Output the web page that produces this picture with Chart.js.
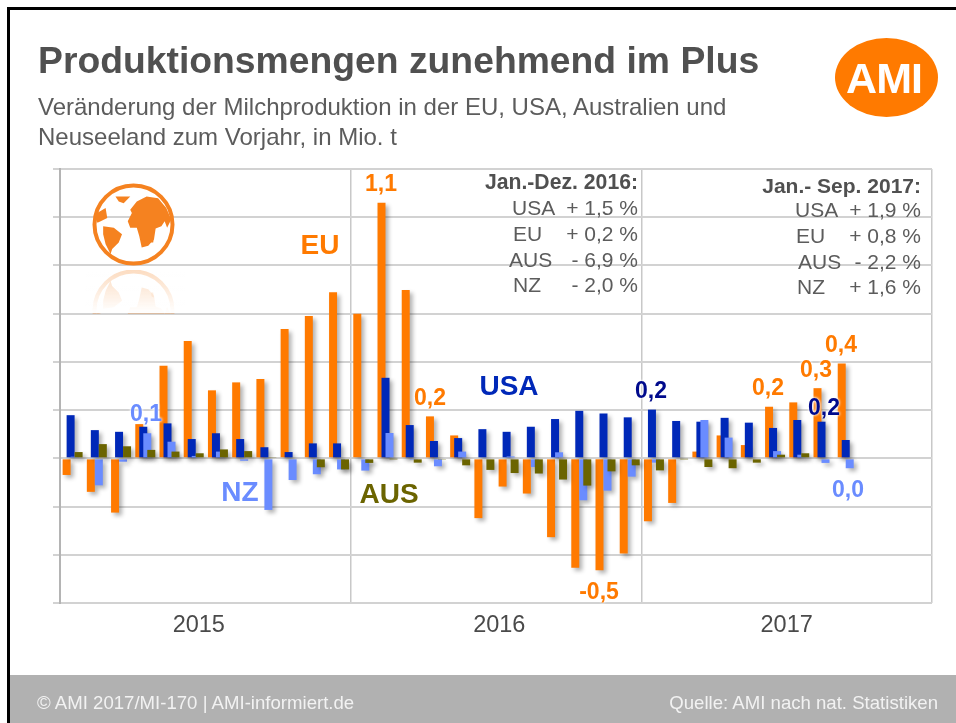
<!DOCTYPE html>
<html lang="de"><head><meta charset="utf-8">
<script src="https://cdn.jsdelivr.net/npm/chart.js@4"></script>
<style>
html,body{margin:0;padding:0;background:#fff;width:956px;height:723px;overflow:hidden;font-family:"Liberation Sans",Arial,sans-serif}
#wrap{position:relative;width:956px;height:723px;overflow:hidden}
#c{position:absolute;left:0;top:0}
.fr{position:absolute;background:#000}
.t{position:absolute;white-space:pre;line-height:1}
#foot{position:absolute;left:10px;top:675px;width:946px;height:48px;background:#b1b1b1}
#logo{position:absolute;left:835px;top:38px;width:103px;height:79px;border-radius:50%;background:#ff7a00}
</style></head><body>
<div id="wrap">
<div id="foot"></div>
<canvas id="c" width="956" height="723"></canvas>
<div class="fr" style="left:7px;top:7px;width:949px;height:3px"></div>
<div class="fr" style="left:7px;top:7px;width:3px;height:716px"></div>
<div id="logo"></div>
</div>
<script>
const months = ['2015-01','2015-02','2015-03','2015-04','2015-05','2015-06','2015-07','2015-08','2015-09','2015-10','2015-11','2015-12',
 '2016-01','2016-02','2016-03','2016-04','2016-05','2016-06','2016-07','2016-08','2016-09','2016-10','2016-11','2016-12',
 '2017-01','2017-02','2017-03','2017-04','2017-05','2017-06','2017-07','2017-08','2017-09','2017-10','2017-11','2017-12'];
const years = ['2015','2016','2017'];
const eu  = [-0.069,-0.139,-0.225,0.142,0.384,0.487,0.282,0.315,0.329,0.536,0.59,0.689,
 0.6,1.06,0.698,0.174,0.095,-0.248,-0.117,-0.146,-0.327,-0.454,-0.464,-0.395,
 -0.261,-0.185,0.028,0.095,0.055,0.214,0.232,0.291,0.393,null,null,null];
const usa = [0.179,0.117,0.11,0.131,0.145,0.08,0.104,0.08,0.046,0.026,0.062,0.062,
 0.004,0.334,0.138,0.072,0.084,0.121,0.11,0.131,0.163,0.197,0.186,0.17,
 0.202,0.155,0.152,0.168,0.148,0.126,0.159,0.152,0.076,null,null,null];
const nz  = [0.007,-0.112,-0.014,0.104,0.069,0.01,0.028,-0.01,-0.214,-0.09,-0.066,-0.046,
 -0.051,0.105,-0.006,-0.033,0.028,0,0.008,-0.036,0.025,-0.174,-0.134,-0.076,
 -0.018,0,0.159,0.086,-0.004,0.03,0.015,-0.019,-0.041,null,null,null];
const aus = [0.026,0.059,0.05,0.035,0.028,0.021,0.037,0.03,0.005,-0.004,-0.037,-0.046,
 -0.019,-0.002,-0.018,-0.003,-0.029,-0.048,-0.061,-0.063,-0.088,-0.113,-0.054,-0.029,
 -0.05,-0.002,-0.036,-0.041,-0.018,0.015,0.021,0.004,-0.004,null,null,null];

const ORANGE='#ff7a00',BLUE='#0028b8',LIGHT='#6a8cff',OLIVE='#6b6400',NAVY='#000a8c',GREY='#505050',GREY2='#5c5c5c';
const texts = [
 ['Produktionsmengen zunehmend im Plus',38,61,'l',37.3,GREY,1],
 ['Veränderung der Milchproduktion in der EU, USA, Australien und',38,106.5,'l',24,GREY2,0],
 ['Neuseeland zum Vorjahr, in Mio. t',38,136.5,'l',24,GREY2,0],
 ['AMI',884,78,'c',43,'#fff',1,-1],
 ['EU',320,245,'c',28,ORANGE,1],['USA',509,386,'c',28,BLUE,1],['NZ',240,492,'c',28,LIGHT,1],['AUS',389,494,'c',28,OLIVE,1],
 ['1,1',381,183,'c',23,ORANGE,1],['0,1',146,413,'c',23,LIGHT,1],['0,2',430,397,'c',23,ORANGE,1],['-0,5',599,591,'c',23,ORANGE,1],
 ['0,2',651,390,'c',23,NAVY,1],['0,2',768,387,'c',23,ORANGE,1],['0,3',816,369,'c',23,ORANGE,1],['0,4',841,344,'c',23,ORANGE,1],
 ['0,2',824,407,'c',23,NAVY,1],['0,0',848,489,'c',23,LIGHT,1],
 ['Jan.-Dez. 2016:',638,181.5,'r',21.2,GREY,1],
 ['USA',512,206.5,'l',21,GREY2,0],['+ 1,5 %',638,206.5,'r',21,GREY2,0],
 ['EU',513,232.5,'l',21,GREY2,0],['+ 0,2 %',638,232.5,'r',21,GREY2,0],
 ['AUS',509,258.5,'l',21,GREY2,0],['- 6,9 %',638,258.5,'r',21,GREY2,0],
 ['NZ',513,283.5,'l',21,GREY2,0],['- 2,0 %',638,283.5,'r',21,GREY2,0],
 ['Jan.- Sep. 2017:',921,184.5,'r',21,GREY,1],
 ['USA',795,208.5,'l',21,GREY2,0],['+ 1,9 %',921,208.5,'r',21,GREY2,0],
 ['EU',796,234.5,'l',21,GREY2,0],['+ 0,8 %',921,234.5,'r',21,GREY2,0],
 ['AUS',798,260.5,'l',21,GREY2,0],['- 2,2 %',921,260.5,'r',21,GREY2,0],
 ['NZ',797,285.5,'l',21,GREY2,0],['+ 1,6 %',921,285.5,'r',21,GREY2,0],
 ['© AMI 2017/MI-170 | AMI-informiert.de',37,703,'l',18.6,'#f2f2f2',0],
 ['Quelle: AMI nach nat. Statistiken',938,703,'r',18.6,'#f2f2f2',0]
];
const wrap=document.getElementById('wrap');
texts.forEach(([s,x,y,a,size,col,b,sp])=>{
 const d=document.createElement('div');d.className='t';d.textContent=s;
 d.style.cssText+=`top:${y}px;font-size:${size}px;color:${col};font-weight:${b?700:400};`;
 if(sp)d.style.letterSpacing=sp+'px';
 if(size===23&&b)d.style.textShadow='0 0 3px #fff,0 0 3px #fff';
 if(a==='l'){d.style.left=x+'px';d.style.transform='translateY(-50%)';}
 else if(a==='r'){d.style.right=(956-x)+'px';d.style.transform='translateY(-50%)';}
 else {d.style.left=x+'px';d.style.transform='translate(-50%,-50%)';}
 wrap.appendChild(d);
});

function globeShapes(ctx,cx,cy,r,col){
 const poly=(pts)=>{ctx.beginPath();pts.forEach((p,i)=>{const X=cx+p[0]*r,Y=cy+p[1]*r;i?ctx.lineTo(X,Y):ctx.moveTo(X,Y)});ctx.closePath();ctx.fill();};
 ctx.fillStyle=col;ctx.strokeStyle=col;ctx.lineWidth=4;
 ctx.beginPath();ctx.arc(cx,cy,r-2,0,Math.PI*2);ctx.stroke();
 poly([[-.08,-.36],[.08,-.56],[.32,-.68],[.6,-.64],[.8,-.4],[.92,-.12],[.82,.08],[.76,-.08],[.68,.04],[.54,.1],[.5,.36],[.36,.52],[.2,.56],[.14,.28],[.08,.08],[-.08,.08],[-.14,-.08],[-.04,-.28]]);
 poly([[-.74,.04],[-.48,.08],[-.28,.24],[-.36,.44],[-.52,.6],[-.56,.72],[-.68,.48],[-.74,.24]]);
 poly([[-.96,-.24],[-.68,-.4],[-.64,-.16],[-.8,-.08],[-.88,-.04]]);
 poly([[-.44,-.68],[-.08,-.68],[-.24,-.52],[-.36,-.56]]);
 poly([[.44,.34],[.5,.32],[.48,.44],[.43,.44]]);
}
const plugin={
 id:'layers',
 beforeDatasetsDraw(chart){
  const ctx=chart.ctx,cx=133.5,cy=224.5,r=41;
  ctx.save();globeShapes(ctx,cx,cy,r,'#f58220');ctx.restore();
  ctx.save();ctx.beginPath();ctx.rect(85,270,100,44);ctx.clip();
  ctx.globalAlpha=0.28;ctx.translate(0,2*(cy+r)+4);ctx.scale(1,-1);globeShapes(ctx,cx,cy,r,'#f58220');ctx.restore();
  ctx.save();const g=ctx.createLinearGradient(0,270,0,313);g.addColorStop(0,'rgba(255,255,255,0)');g.addColorStop(1,'rgba(255,255,255,1)');
  ctx.fillStyle=g;ctx.fillRect(85,270,100,43);ctx.restore();
  ctx.save();
  ctx.translate(0.5,0);
  ctx.shadowColor='rgba(0,0,0,0.3)';ctx.shadowBlur=4;ctx.shadowOffsetX=3;ctx.shadowOffsetY=3;
  chart.data.datasets.forEach((d,i)=>chart.getDatasetMeta(i).controller.draw());
  ctx.restore();
  return false;
 }
};
const common={borderWidth:0,categoryPercentage:0.66,barPercentage:2};
const yearPad=['','\u00a0',''];
const yearTrail=['\u00a0\u00a0','',''];
new Chart(document.getElementById('c'),{
 type:'bar',
 data:{labels:months,datasets:[
  {label:'EU',data:eu,backgroundColor:ORANGE,...common},
  {label:'USA',data:usa,backgroundColor:BLUE,...common},
  {label:'NZ',data:nz,backgroundColor:LIGHT,...common},
  {label:'AUS',data:aus,backgroundColor:OLIVE,...common}
 ]},
 plugins:[plugin],
 options:{
  responsive:false,animation:false,
  layout:{padding:{left:53,top:169,right:24,bottom:70}},
  plugins:{legend:{display:false},tooltip:{enabled:false},title:{display:false}},
  scales:{
   x:{display:false,offset:true,grid:{display:false}},
   years:{axis:'x',type:'category',position:'bottom',labels:years,offset:true,
    grid:{offset:true,color:'#c8c8c8',lineWidth:1.5,drawTicks:false},
    border:{display:false},
    ticks:{color:'#4a4a4a',font:{family:'"Liberation Sans"',size:23.5},padding:8,maxRotation:0,
     callback(v,i){return yearPad[i]+years[i]+yearTrail[i];}},
    afterFit(s){s.height=50;}
   },
   y:{min:-0.6,max:1.2,position:'left',
    ticks:{display:false,stepSize:0.2},
    grid:{color:'#d2d2d2',lineWidth:2,tickLength:7,drawTicks:true},
    border:{color:'#b4b4b4',width:2},
    afterFit(s){s.width=7;}
   }
  }
 }
});
</script>
</body></html>
